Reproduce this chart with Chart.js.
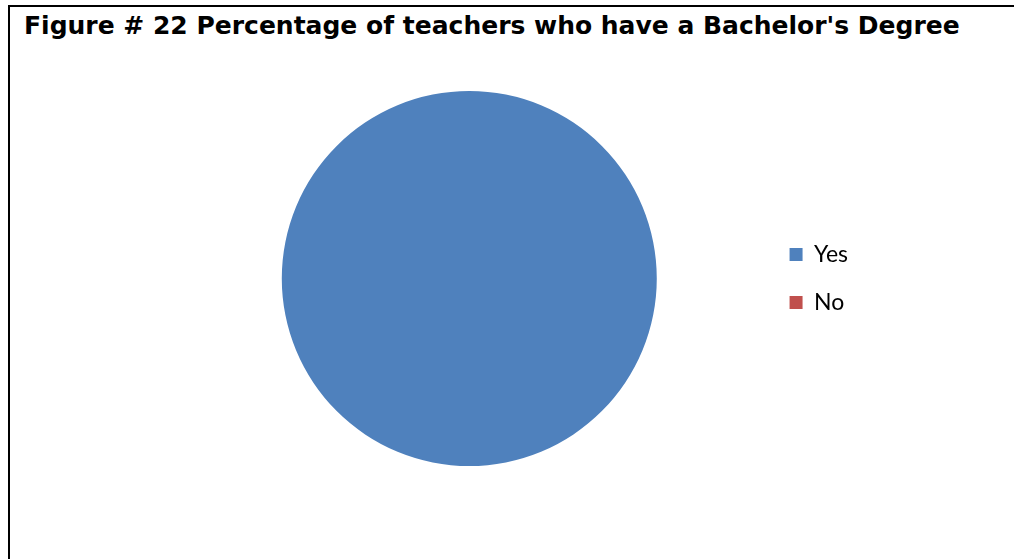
<!DOCTYPE html>
<html>
<head>
<meta charset="utf-8">
<script src="https://cdn.jsdelivr.net/npm/chart.js@4/dist/chart.umd.min.js"></script>
<style>
  html, body { margin: 0; padding: 0; background: #fff; }
  body { width: 1014px; height: 559px; position: relative; overflow: hidden; }
  .frame {
    position: absolute; left: 8px; top: 5px; width: 1020px; height: 570px;
    border-left: 2px solid #000; border-top: 2px solid #000;
  }
  .title {
    position: absolute; left: 24px; top: 11px;
    font: bold 25px "DejaVu Sans", sans-serif;
    color: #000; white-space: nowrap;
  }
  #chartBox { position: absolute; left: 0; top: 0; width: 1014px; height: 559px; }
</style>
</head>
<body>
<div class="frame"></div>
<div class="title">Figure # 22 Percentage of teachers who have a Bachelor's Degree</div>
<div id="chartBox"><canvas id="degreePie"></canvas></div>
<script>
const labels = ["Yes", "No"];
const percentages = [100, 0];
const colors = ["#4f81bd", "#c0504d"];

const ctx = document.getElementById("degreePie").getContext("2d");
new Chart(ctx, {
  type: "pie",
  data: {
    labels: labels,
    datasets: [
      {
        data: percentages,
        backgroundColor: colors,
        borderWidth: 0,
      },
    ],
  },
  options: {
    responsive: true,
    maintainAspectRatio: false,
    animation: false,
    layout: {
      padding: { left: 174, right: 156, top: 91, bottom: 93 },
    },
    plugins: {
      tooltip: { enabled: false },
      legend: {
        position: "right",
        align: "center",
        labels: {
          boxWidth: 13,
          boxHeight: 13,
          padding: 25,
          color: "#000",
          font: { family: "Lato", size: 23 },
        },
      },
    },
  },
});
</script>
</body>
</html>
